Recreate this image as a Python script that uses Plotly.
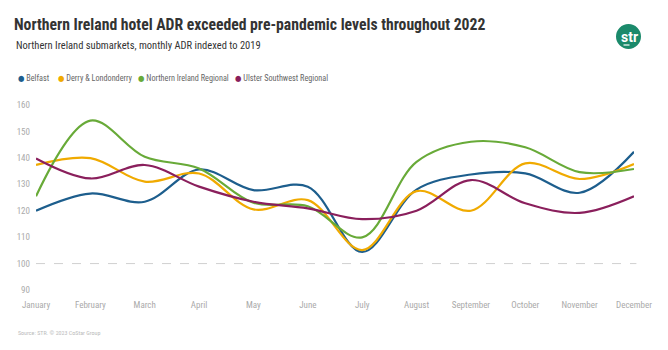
import plotly.graph_objects as go

months = ["January", "February", "March", "April", "May", "June", "July",
          "August", "September", "October", "November", "December"]
belfast = [120.0, 126.5, 123.4, 135.6, 127.8, 129.1, 104.4, 128.0, 133.7, 134.1, 126.8, 142.3]
derry = [137.3, 139.9, 131.0, 134.1, 120.5, 124.0, 105.1, 127.4, 120.0, 137.9, 132.0, 137.7]
ni_regional = [125.5, 154.1, 140.4, 136.0, 123.0, 121.7, 109.9, 138.5, 146.1, 144.0, 134.6, 135.8]
ulster_sw = [139.8, 132.2, 137.3, 129.1, 123.4, 120.9, 116.8, 120.0, 131.6, 122.8, 119.2, 125.5]

series_names = ["Belfast", "Derry & Londonderry", "Northern Ireland Regional", "Ulster Southwest Regional"]
series_values = [belfast, derry, ni_regional, ulster_sw]
colors = ["#1d5e8d", "#f0aa00", "#68aa38", "#8a1f5c"]
y_ticks = [90, 100, 110, 120, 130, 140, 150, 160]
baseline = 100

FONT = "Roboto Condensed, Liberation Sans Narrow, DejaVu Sans Condensed, Arial Narrow, sans-serif"

W, H = 668, 350
ML, MR, MT, MB = 36, 34, 105, 60
PW, PH = W - ML - MR, H - MT - MB

def px(x):
    return (x - ML) / PW

def py(y):
    return (H - MB - y) / PH

fig = go.Figure()
xs = list(range(len(months)))
for name, vals, col in zip(series_names, series_values, colors):
    fig.add_trace(go.Scatter(x=xs, y=vals, mode="lines", name=name,
                             line=dict(color=col, width=2.2, shape="spline", smoothing=1.0),
                             showlegend=False, hoverinfo="skip"))

# manual legend
leg_x = [16, 56, 136, 233]
annotations = []
for name, col, lx in zip(series_names, colors, leg_x):
    annotations.append(dict(
        text=f"<span style='color:{col}'>●</span><span style='color:#666666'> {name}</span>",
        x=px(lx), y=py(78), xref="paper", yref="paper",
        xanchor="left", yanchor="middle", showarrow=False,
        font=dict(family=FONT, size=8.2, color="#666666")))

annotations.append(dict(
    text="Northern Ireland submarkets, monthly ADR indexed to 2019",
    x=px(14), y=py(45), xref="paper", yref="paper", xanchor="left", yanchor="middle",
    showarrow=False, font=dict(family=FONT, size=10.5, color="#333333")))

annotations.append(dict(
    text="Source: STR. © 2023 CoStar Group",
    x=px(16), y=py(332), xref="paper", yref="paper", xanchor="left", yanchor="middle",
    showarrow=False, font=dict(family=FONT, size=6, color="#bbbbbb")))

# logo text
annotations.append(dict(
    text="<b>str</b>", x=px(629), y=py(37), xref="paper", yref="paper",
    xanchor="center", yanchor="middle", showarrow=False,
    font=dict(family="Roboto, sans-serif", size=14, color="white")))

fig.update_layout(
    width=W, height=H,
    margin=dict(l=ML, r=MR, t=MT, b=MB),
    paper_bgcolor="white", plot_bgcolor="white",
    title=dict(text="<b>Northern Ireland hotel ADR exceeded pre-pandemic levels throughout 2022</b>",
               x=14 / W, xanchor="left", xref="container",
               y=1 - 25 / H, yanchor="middle", yref="container",
               font=dict(family=FONT, size=15.7, color="#333333")),
    xaxis=dict(range=[0, 11], tickvals=xs, ticktext=months, showgrid=False, zeroline=False,
               showline=False, ticks="", tickfont=dict(family=FONT, size=9, color="#aaaaaa"),
               ticklabelstandoff=8),
    yaxis=dict(range=[90, 160], tickvals=y_ticks, showgrid=False, zeroline=False,
               showline=False, ticks="", tickfont=dict(family=FONT, size=9, color="#aaaaaa"),
               ticklabelstandoff=5),
    annotations=annotations,
    showlegend=False,
)

fig.add_shape(type="line", xref="paper", yref="y", x0=0, x1=1.004, y0=baseline, y1=baseline,
              line=dict(color="#d0d0d0", width=1, dash="dash"), layer="below")
fig.add_shape(type="circle", xref="paper", yref="paper", x0=px(616), x1=px(641), y0=py(24), y1=py(49),
              fillcolor="#1b8a6b", line=dict(width=0), layer="below")
fig.add_shape(type="rect", xref="paper", yref="paper", x0=px(623.5), x1=px(629.5), y0=py(44.4), y1=py(45.6),
              fillcolor="white", line=dict(width=0), layer="above")

fig.write_html("out.html")
